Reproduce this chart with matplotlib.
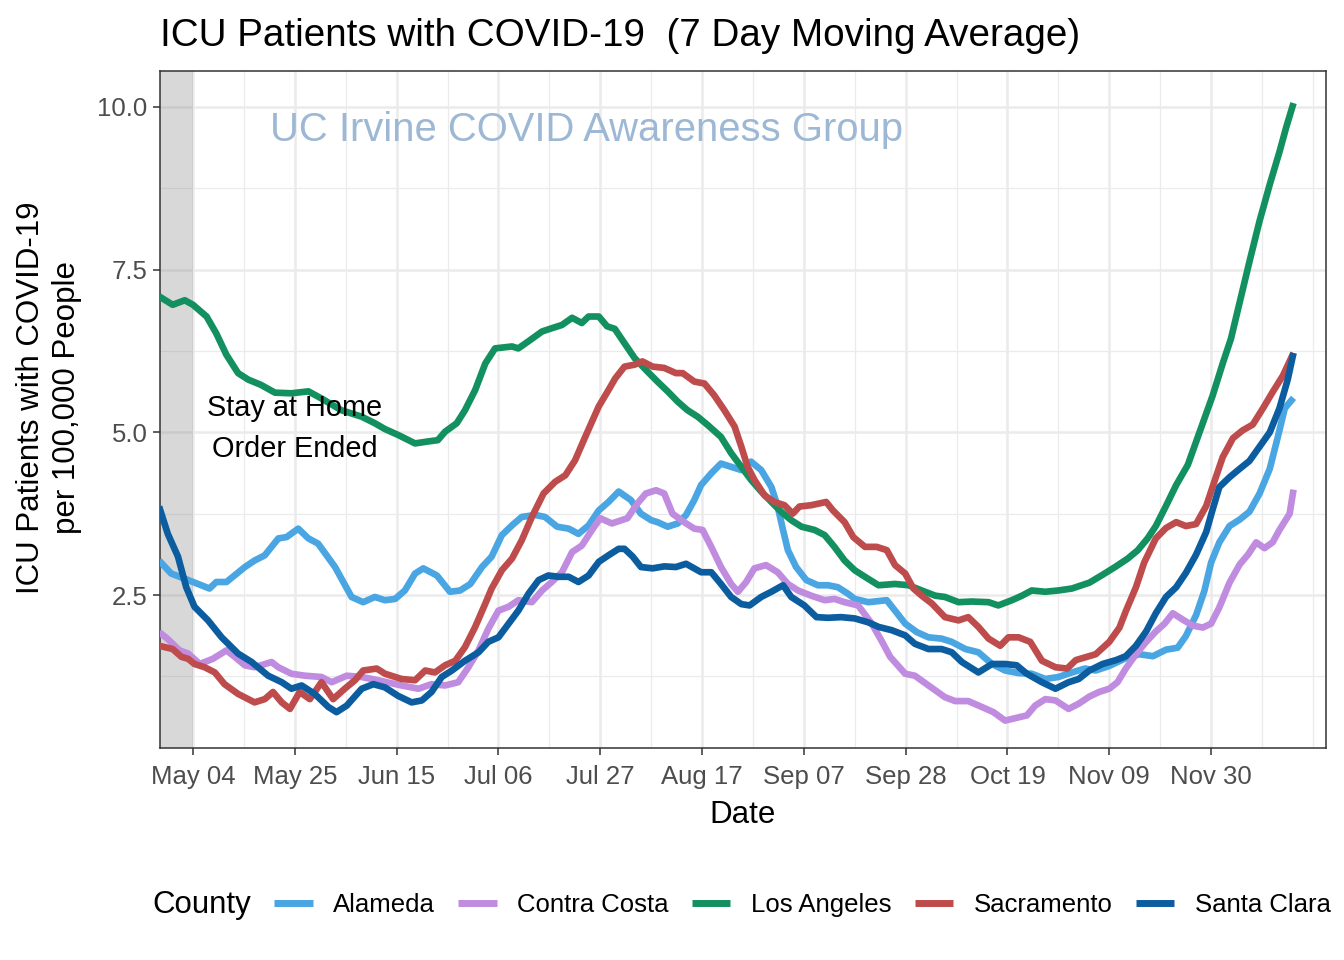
import numpy as np
import pandas as pd
import matplotlib
matplotlib.use("Agg")
import matplotlib.pyplot as plt
import matplotlib.dates as mdates
from matplotlib.lines import Line2D

plt.rcParams['font.family'] = ['Liberation Sans', 'DejaVu Sans']

START = pd.Timestamp('2020-04-27')

counties = ["Alameda", "Contra Costa", "Los Angeles", "Sacramento", "Santa Clara"]
colors = ["#4AA5E3", "#C08CDF", "#13905F", "#BF4C4C", "#0B5DA0"]

# day offsets from 2020-04-27 and ICU patients per 100,000 (7-day avg)
alameda_days = [0, 2.5, 6, 10.4, 11.8, 13.9, 17.7, 19.7, 21.8, 24.6, 26.3, 28.7, 30.8, 32.8, 36.3, 39.7, 42.1, 44.5,
                46.6, 48.7, 50.7, 52.8, 54.5, 57.3, 60, 62.1, 64.2, 66.6, 68.6, 70.7, 72.8, 74.8, 77.6, 79.6, 82.1, 84.5,
                86.5, 88.6, 90.7, 92.7, 94.8, 97.3, 99.4, 101.5, 102.8, 104.9, 107, 108.7, 110.4, 111.8, 113.9, 115.9,
                118, 120.1, 122.1, 124.2, 126.3, 127.6, 128.7, 129.7, 131.4, 133.5, 135.9, 138, 140, 142.1, 143.5,
                146.3, 150.1, 151.8, 153.9, 156.3, 158.7, 161.4, 163.5, 166.3, 169, 171.8, 174.5, 177.3, 180, 182.8,
                185.5, 188.3, 191, 193.2, 196, 199.4, 202.2, 205, 207.7, 210.1, 211.8, 213.9, 215.6, 217, 218.7, 220.8,
                222.9, 224.9, 227, 229.1, 230.8, 232.2, 234]
alameda_vals = [3.03, 2.83, 2.73, 2.60, 2.70, 2.70, 2.93, 3.03, 3.11, 3.37, 3.39, 3.52, 3.37, 3.29, 2.93, 2.47, 2.39, 2.47,
                2.42, 2.44, 2.57, 2.83, 2.91, 2.80, 2.55, 2.57, 2.67, 2.93, 3.09, 3.42, 3.57, 3.70, 3.73, 3.70, 3.55, 3.52,
                3.44, 3.57, 3.80, 3.93, 4.09, 3.96, 3.75, 3.65, 3.62, 3.55, 3.60, 3.73, 3.96, 4.19, 4.37, 4.52,
                4.47, 4.42, 4.55, 4.42, 4.16, 3.86, 3.50, 3.19, 2.93, 2.73, 2.65, 2.65, 2.62, 2.52, 2.44,
                2.39, 2.42, 2.26, 2.06, 1.93, 1.85, 1.83, 1.78, 1.67, 1.62, 1.44, 1.34, 1.30, 1.29, 1.21,
                1.24, 1.31, 1.37, 1.34, 1.41, 1.53, 1.59, 1.56, 1.66, 1.69, 1.87, 2.19, 2.56, 3.00, 3.31, 3.56,
                3.66, 3.78, 4.06, 4.44, 4.94, 5.37, 5.53]

contra_days = [0, 1.7, 4.2, 6, 8.4, 11.1, 13.9, 15.6, 17.7, 19.7, 23.2, 24.6, 27.3, 30.1, 33.5, 35.6, 38.7, 41.8, 45.2,
               50, 53.5, 56.2, 59, 61.7, 63.8, 65.9, 67.9, 70, 72.1, 74.1, 76.9, 79, 81, 83.1, 85.2, 87.2, 89.3, 91,
               93.4, 96.6, 98.7, 100.4, 102.5, 104.2, 105.9, 108.3, 110.4, 112.1, 113.9, 115.9, 118, 119.4, 121.1,
               122.8, 125.2, 127.6, 129.7, 131.8, 134.5, 137.3, 139.3, 141.4, 144.2, 147, 149, 150.8, 153.9, 155.9,
               158.7, 162.1, 164.2, 166.9, 169.7, 172.1, 174.5, 177.3, 179, 180.7, 182.8, 184.9, 187.6, 189.7, 191.9,
               193.9, 196, 197.7, 199.4, 201.5, 203.6, 205.6, 207.4, 209.1, 211.2, 213.2, 215.3, 217, 218.7, 220.8,
               222.9, 224.6, 226.3, 228, 229.7, 231.1, 233.2, 234]
contra_vals = [1.93, 1.83, 1.65, 1.60, 1.44, 1.52, 1.65, 1.55, 1.42, 1.39, 1.47, 1.39, 1.29, 1.26, 1.24, 1.16, 1.26, 1.24, 1.19,
               1.11, 1.06, 1.13, 1.11, 1.16, 1.39, 1.65, 1.98, 2.26, 2.32, 2.42, 2.39, 2.57, 2.70, 2.85, 3.16, 3.26, 3.50, 3.68,
               3.60, 3.68, 3.91, 4.06, 4.11, 4.06, 3.75, 3.62, 3.52, 3.50, 3.24, 2.93, 2.67, 2.55, 2.70,
               2.91, 2.96, 2.85, 2.67, 2.57, 2.49, 2.42, 2.44, 2.39, 2.34, 2.06, 1.80, 1.55, 1.29, 1.26,
               1.11, 0.93, 0.87, 0.87, 0.78, 0.70, 0.57, 0.62, 0.65, 0.80, 0.90, 0.88, 0.75, 0.83, 0.94,
               1.01, 1.06, 1.16, 1.37, 1.59, 1.78, 1.94, 2.06, 2.22, 2.12, 2.03, 2.00, 2.06, 2.31, 2.69,
               2.97, 3.12, 3.31, 3.22, 3.31, 3.50, 3.75, 4.12]

la_days = [0, 2.8, 5.3, 7, 9.8, 11.8, 13.9, 16.3, 18.4, 21, 23.9, 27.3, 30.8, 33.5, 37.6, 41.8, 44.5, 46.6, 49.3,
           52.8, 55.5, 57.5, 59, 61.4, 63.1, 65.2, 67.3, 69.3, 72.8, 74.1, 76.2, 79, 81, 83.1, 85.2, 87.2, 88.6, 90.7,
           92.4, 94, 96, 98.1, 100.8, 102.8, 104.9, 107, 109, 111.1, 113.2, 115.9, 118, 120.1, 122.1, 124.2, 126.3,
           128.3, 130.4, 132.5, 135.2, 137.3, 139.3, 141.4, 143.5, 145.6, 148.4, 151.8, 154.6, 157.3, 160.1, 162.1,
           164.9, 167.6, 171.1, 173.1, 175.9, 178, 180, 182.8, 185.5, 188.3, 191.9, 194.6, 197.4, 199.8, 201.9,
           203.9, 205.6, 207.7, 209.8, 212.2, 214.6, 217.3, 219.4, 221.1, 222.9, 224.9, 227, 229.1, 231.1, 232.5, 234]
la_vals = [7.09, 6.96, 7.03, 6.96, 6.78, 6.52, 6.19, 5.91, 5.81, 5.73, 5.61, 5.60, 5.63, 5.52, 5.34, 5.24, 5.14, 5.05, 4.96,
           4.83, 4.86, 4.88, 5.01, 5.14, 5.34, 5.65, 6.06, 6.29, 6.32, 6.29, 6.40, 6.55, 6.60, 6.65, 6.76, 6.68, 6.78, 6.78,
           6.63, 6.59, 6.37, 6.14, 5.93, 5.78, 5.63, 5.47, 5.34, 5.24, 5.11, 4.93, 4.68, 4.47, 4.27, 4.09, 3.93,
           3.78, 3.65, 3.55, 3.50, 3.42, 3.24, 3.03, 2.88, 2.78, 2.65, 2.67, 2.65, 2.57, 2.49, 2.47,
           2.39, 2.40, 2.39, 2.34, 2.42, 2.49, 2.57, 2.55, 2.57, 2.60, 2.69, 2.81, 2.94, 3.06, 3.19,
           3.37, 3.56, 3.87, 4.19, 4.50, 5.00, 5.56, 6.06, 6.44, 7.00, 7.62, 8.25, 8.81, 9.31, 9.69, 10.06]

sac_days = [0, 2.8, 4.6, 6, 7.3, 9.4, 11.5, 13.5, 16.3, 19.7, 21.8, 23.5, 25.3, 27, 29, 31.1, 33.5, 35.9, 38.3, 40.4,
            42.1, 44.9, 46.6, 50, 52.8, 54.9, 56.9, 59, 61.1, 63.1, 65.2, 67.3, 68.6, 70.7, 72.8, 74.8, 76.9, 79.3,
            81.7, 83.8, 85.8, 87.9, 90.7, 92.7, 94.1, 96, 98.1, 99.7, 101.8, 104.2, 106.6, 108, 110.4, 112.5, 114.5,
            116.6, 118.7, 120.1, 121.4, 122.8, 124.9, 126.9, 129, 130.7, 132.1, 134.5, 137.6, 139, 141.4, 143.2,
            145.6, 148, 150.1, 151.8, 153.9, 155.6, 157.3, 159.4, 162.1, 164.9, 166.9, 169, 171.1, 173.5, 175.2,
            177.3, 179.7, 182.1, 184.9, 187.3, 189.1, 193.2, 196, 198.1, 199.4, 201.5, 203.2, 205.6, 207.7, 209.8,
            211.8, 213.9, 216, 217.7, 219.4, 221.5, 223.5, 225.6, 227.7, 229.7, 231.8, 234]
sac_vals = [1.72, 1.67, 1.55, 1.52, 1.44, 1.39, 1.31, 1.13, 0.98, 0.85, 0.90, 1.01, 0.85, 0.75, 1.01, 0.90, 1.16, 0.90, 1.06, 1.19,
            1.34, 1.37, 1.29, 1.21, 1.19, 1.34, 1.31, 1.42, 1.49, 1.70, 2.01, 2.37, 2.60, 2.88, 3.06, 3.34, 3.70, 4.06,
            4.24, 4.34, 4.57, 4.93, 5.40, 5.65, 5.83, 6.01, 6.04, 6.09, 6.01, 5.99, 5.91, 5.91, 5.78, 5.75, 5.57,
            5.34, 5.09, 4.78, 4.47, 4.27, 4.03, 3.93, 3.88, 3.75, 3.86, 3.88, 3.93, 3.80, 3.62, 3.39,
            3.24, 3.24, 3.19, 2.96, 2.83, 2.60, 2.49, 2.37, 2.16, 2.11, 2.16, 2.01, 1.83, 1.72, 1.85,
            1.85, 1.78, 1.49, 1.39, 1.37, 1.50, 1.59, 1.78, 2.00, 2.25, 2.62, 3.00, 3.37, 3.53, 3.62,
            3.56, 3.59, 3.87, 4.25, 4.62, 4.91, 5.03, 5.12, 5.37, 5.62, 5.87, 6.22]

sc_days = [0, 1.8, 3.9, 5.6, 7.3, 10.1, 12.9, 16.3, 19.1, 22.5, 25.3, 27.3, 29.4, 32.1, 34.9, 36.6, 38.7, 41.8, 44.2,
           46.6, 49.3, 52.1, 54.2, 56.2, 58.3, 60.4, 63.1, 65.9, 67.9, 70, 72.1, 74.1, 76.2, 78.3, 80.3, 82.4, 84.5,
           86.5, 88.6, 90.7, 92.7, 94.8, 96, 97.7, 99.4, 101.8, 104.2, 106.6, 108.7, 111.8, 113.9, 115.9, 118, 120.1,
           121.8, 124.2, 126.3, 128.7, 130.4, 133.1, 135.6, 138, 140.7, 143.5, 146.3, 148.4, 151.1, 153.9, 155.9,
           158.7, 161.4, 163.5, 165.6, 169, 171.8, 174.5, 176.9, 179, 182.1, 184.9, 187.6, 189.7, 191.9, 194.6,
           197.4, 199.4, 201.5, 203.6, 205.6, 207.7, 209.8, 211.8, 213.9, 216, 217.3, 218.7, 220.8, 222.9, 224.9,
           227, 229.1, 231.1, 232.8, 234]
sc_vals = [3.86, 3.44, 3.09, 2.62, 2.32, 2.11, 1.85, 1.60, 1.47, 1.26, 1.16, 1.06, 1.11, 0.98, 0.78, 0.70, 0.80, 1.06, 1.13,
           1.08, 0.95, 0.85, 0.88, 1.01, 1.24, 1.34, 1.49, 1.62, 1.78, 1.85, 2.06, 2.26, 2.52, 2.73, 2.80, 2.78, 2.78,
           2.70, 2.80, 3.01, 3.11, 3.21, 3.21, 3.09, 2.93, 2.91, 2.94, 2.93, 2.98, 2.85, 2.85, 2.67, 2.47, 2.36,
           2.34, 2.47, 2.55, 2.65, 2.47, 2.34, 2.16, 2.15, 2.16, 2.14, 2.08, 2.01, 1.96, 1.88, 1.75,
           1.67, 1.67, 1.62, 1.47, 1.31, 1.44, 1.44, 1.42, 1.29, 1.16, 1.06, 1.16, 1.21, 1.34, 1.44,
           1.50, 1.56, 1.72, 1.94, 2.22, 2.47, 2.62, 2.84, 3.12, 3.47, 3.81, 4.16, 4.31, 4.44, 4.56,
           4.78, 5.00, 5.37, 5.81, 6.22]

series_days = [alameda_days, contra_days, la_days, sac_days, sc_days]
series_vals = [alameda_vals, contra_vals, la_vals, sac_vals, sc_vals]

title = "ICU Patients with COVID-19  (7 Day Moving Average)"
watermark = "UC Irvine COVID Awareness Group"
annotation = "Stay at Home\nOrder Ended"
y_ticks = [2.5, 5.0, 7.5, 10.0]
y_minor = [1.25, 3.75, 6.25, 8.75]


def d(offset):
    return START + pd.to_timedelta(offset, unit='D')


fig = plt.figure(figsize=(13.44, 9.6), dpi=100)
W, H = 1344, 960
ax = fig.add_axes([160 / W, 1 - 748 / H, (1326 - 160) / W, (748 - 71) / H])

grid_c = "#EBEBEB"
major_dates = [pd.Timestamp('2020-05-04') + pd.Timedelta(days=21 * k) for k in range(11)]
minor_dates = [pd.Timestamp('2020-05-04') + pd.Timedelta(days=10.5 + 21 * k) for k in range(11)] + [pd.Timestamp('2020-12-21')]

ax.set_xticks(major_dates)
ax.set_xticks(minor_dates, minor=True)
ax.set_yticks(y_ticks)
ax.set_yticklabels([f"{v:.1f}" for v in y_ticks])
ax.set_yticks(y_minor, minor=True)
ax.xaxis.set_major_formatter(mdates.DateFormatter('%b %d'))

ax.set_axisbelow(True)
ax.grid(which='major', color=grid_c, lw=1.8)
ax.grid(which='minor', color=grid_c, lw=0.9)

ax.axvspan(d(-30), pd.Timestamp('2020-05-04'), color='grey', alpha=0.3, lw=0, zorder=1)

for name, c, dd, vv in zip(counties, colors, series_days, series_vals):
    ax.plot(d(np.array(dd)), vv, color=c, lw=4.8, solid_joinstyle='round', solid_capstyle='butt', zorder=3)

ax.set_xlim(d(0.19), d(240.7))
ax.set_ylim(0.149, 10.553)

ax.text(pd.Timestamp('2020-05-25'), 5.06, annotation, ha='center', va='center', fontsize=20.8,
        linespacing=1.62, color='black', zorder=4)
ax.text(d(88.2), 9.65, watermark, ha='center', va='center', fontsize=28.8, color='#9DB8D5', zorder=4)

for s in ax.spines.values():
    s.set_color('#333333')
    s.set_linewidth(1.1)
ax.tick_params(which='major', length=5, width=1.1, color='#333333', labelsize=18.5, labelcolor='#4D4D4D')
ax.tick_params(axis='x', which='major', pad=7.5)
ax.tick_params(axis='y', which='major', pad=4)
ax.tick_params(which='minor', length=0)

fig.text(160 / W, 1 - 46 / H, title, ha='left', va='baseline', fontsize=27.8)
fig.text(743 / W, 1 - 815 / H, "Date", ha='center', va='center', fontsize=22.5)
fig.text(49 / W, 1 - 398 / H, "ICU Patients with COVID-19\nper 100,000 People", rotation=90,
         ha='center', va='center', fontsize=22.5, linespacing=1.25)

fig.text(152 / W, 1 - 905 / H, "County", ha='left', va='center', fontsize=22.5)
handles = [Line2D([], [], color=c, lw=5, solid_capstyle='butt') for c in colors]
fig.legend(handles, counties, loc='center left', bbox_to_anchor=(274 / W, 1 - 905 / H), ncol=5,
           frameon=False, fontsize=18.5, handlelength=1.5, handletextpad=0.8, columnspacing=0.9,
           borderpad=0, borderaxespad=0)

fig.savefig("out.png", dpi=100)
